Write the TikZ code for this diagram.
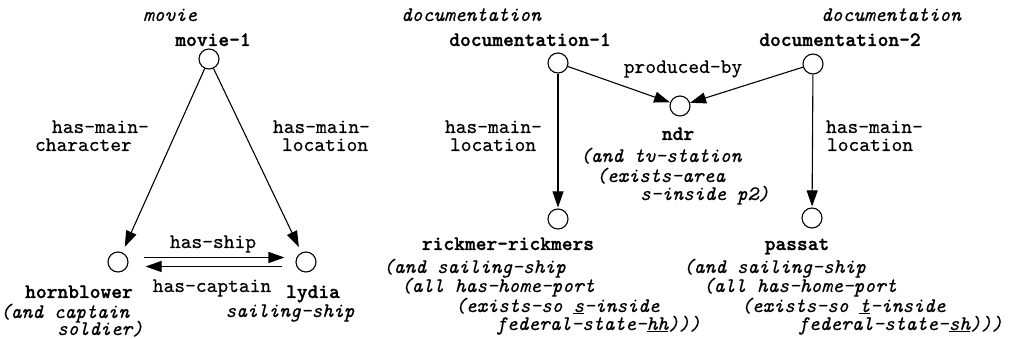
\documentclass[tikz,border=0pt]{standalone}
\usepackage{fontspec}
\setmonofont{lmmono10-regular.otf}[
  BoldFont=lmmonolt10-bold.otf,
  ItalicFont=lmmono10-italic.otf,
  UprightFeatures={FakeBold=0.4},
  ItalicFeatures={FakeBold=0.4},
  BoldFeatures={FakeBold=1.2}]
\usetikzlibrary{arrows.meta}
\newcommand\monotext{\ttfamily\fontsize{20.5}{19}\selectfont}
\tikzset{
  txt/.style={font=\monotext, inner sep=0pt, outer sep=0pt, text height=12pt, text depth=3pt},
  role/.style={txt, anchor=base west},
  ctr/.style={txt, anchor=base},
  concept/.style={txt, anchor=base, font=\monotext\itshape},
  term/.style={txt, anchor=base west, font=\monotext\itshape},
  ident/.style={txt, anchor=base, font=\monotext\bfseries},
  obj/.style={circle, draw, line width=1.1pt, minimum size=20pt, inner sep=0pt},
  arr/.style={line width=1.1pt, -{Triangle[length=16pt,width=11pt]}},
}
\begin{document}
\begin{tikzpicture}[x=1pt, y=-1pt]
\useasboundingbox (0,0) rectangle (1013,339);

% ---- movie graph ----
\node[concept] (movT) at (170,21) {movie};
\node[ident] (movN) at (213,46) {movie-1};
\node[obj] (mov) at (209,59) {};
\node[obj] (hb) at (118,262) {};
\node[obj] (ly) at (306,262) {};

\draw[arr, shorten >=6pt] (mov) -- (hb);
\draw[arr, shorten >=6pt] (mov) -- (ly);
\draw[arr] ([xshift=15pt,yshift=4.5pt]hb.east) -- ([xshift=-11pt,yshift=4.5pt]ly.west);
\draw[arr] ([xshift=-13pt,yshift=-4.5pt]ly.west) -- ([xshift=17pt,yshift=-4.5pt]hb.east);

\node[role] (hmcA) at (52,133) {has-main-};
\node[role] (hmcB) at (35,151) {character};
\node[role] (hmlA) at (273,133) {has-main-};
\node[role] (hmlB) at (282,151) {location};
\node[ctr] (hship) at (213,248) {has-ship};
\node[ctr] (hcapt) at (212,292) {has-captain};

\node[ident] (hbN) at (79,298) {hornblower};
\node[term] (hbA) at (0,318) {(and captain};
\node[term] (hbB) at (57,335) {soldier)};
\node[ident] (lyN) at (313,298) {lydia};
\node[concept] (lyT) at (290,317) {sailing-ship};

% ---- documentation graphs ----
\node[concept] (d1T) at (471,21) {documentation};
\node[ident] (d1N) at (530,46) {documentation-1};
\node[obj] (d1) at (558,63) {};
\node[concept] (d2T) at (891,21) {documentation};
\node[ident] (d2N) at (840,46) {documentation-2};
\node[obj] (d2) at (813,64) {};

\node[obj] (ndr) at (680,106) {};
\node[obj] (rk) at (558,219) {};
\node[obj] (ps) at (812,218) {};

\draw[arr] (d1) -- (ndr);
\draw[arr] (d2) -- (ndr);
\draw[arr, shorten >=1pt] (d1) -- (rk);
\draw[arr, shorten >=1pt] (d2) -- (ps);

\node[ctr] (prod) at (683,73) {produced-by};
\node[role] (dlA) at (445,133) {has-main-};
\node[role] (dlB) at (450,151) {location};
\node[role] (drA) at (826,133) {has-main-};
\node[role] (drB) at (827,151) {location};

\node[ident] (ndrN) at (678,140) {ndr};
\node[term] (ndrA) at (580,162) {(and tv-station};
\node[term] (ndrB) at (596,182) {(exists-area};
\node[term] (ndrC) at (640,200) {s-inside p2)};

\node[ident] (rkN) at (508,250) {rickmer-rickmers};
\node[term] (rkA) at (383,273) {(and sailing-ship};
\node[term] (rkB) at (401,292) {(all has-home-port};
\node[term] (rkC) at (455,312) {(exists-so \underline{s}-inside};
\node[term] (rkD) at (496,330) {federal-state-\underline{hh})))};

\node[ident] (psN) at (797,250) {passat};
\node[term] (psA) at (683,273) {(and sailing-ship};
\node[term] (psB) at (703,292) {(all has-home-port};
\node[term] (psC) at (741,312) {(exists-so \underline{t}-inside};
\node[term] (psD) at (798,330) {federal-state-\underline{sh})))};
\end{tikzpicture}
\end{document}
